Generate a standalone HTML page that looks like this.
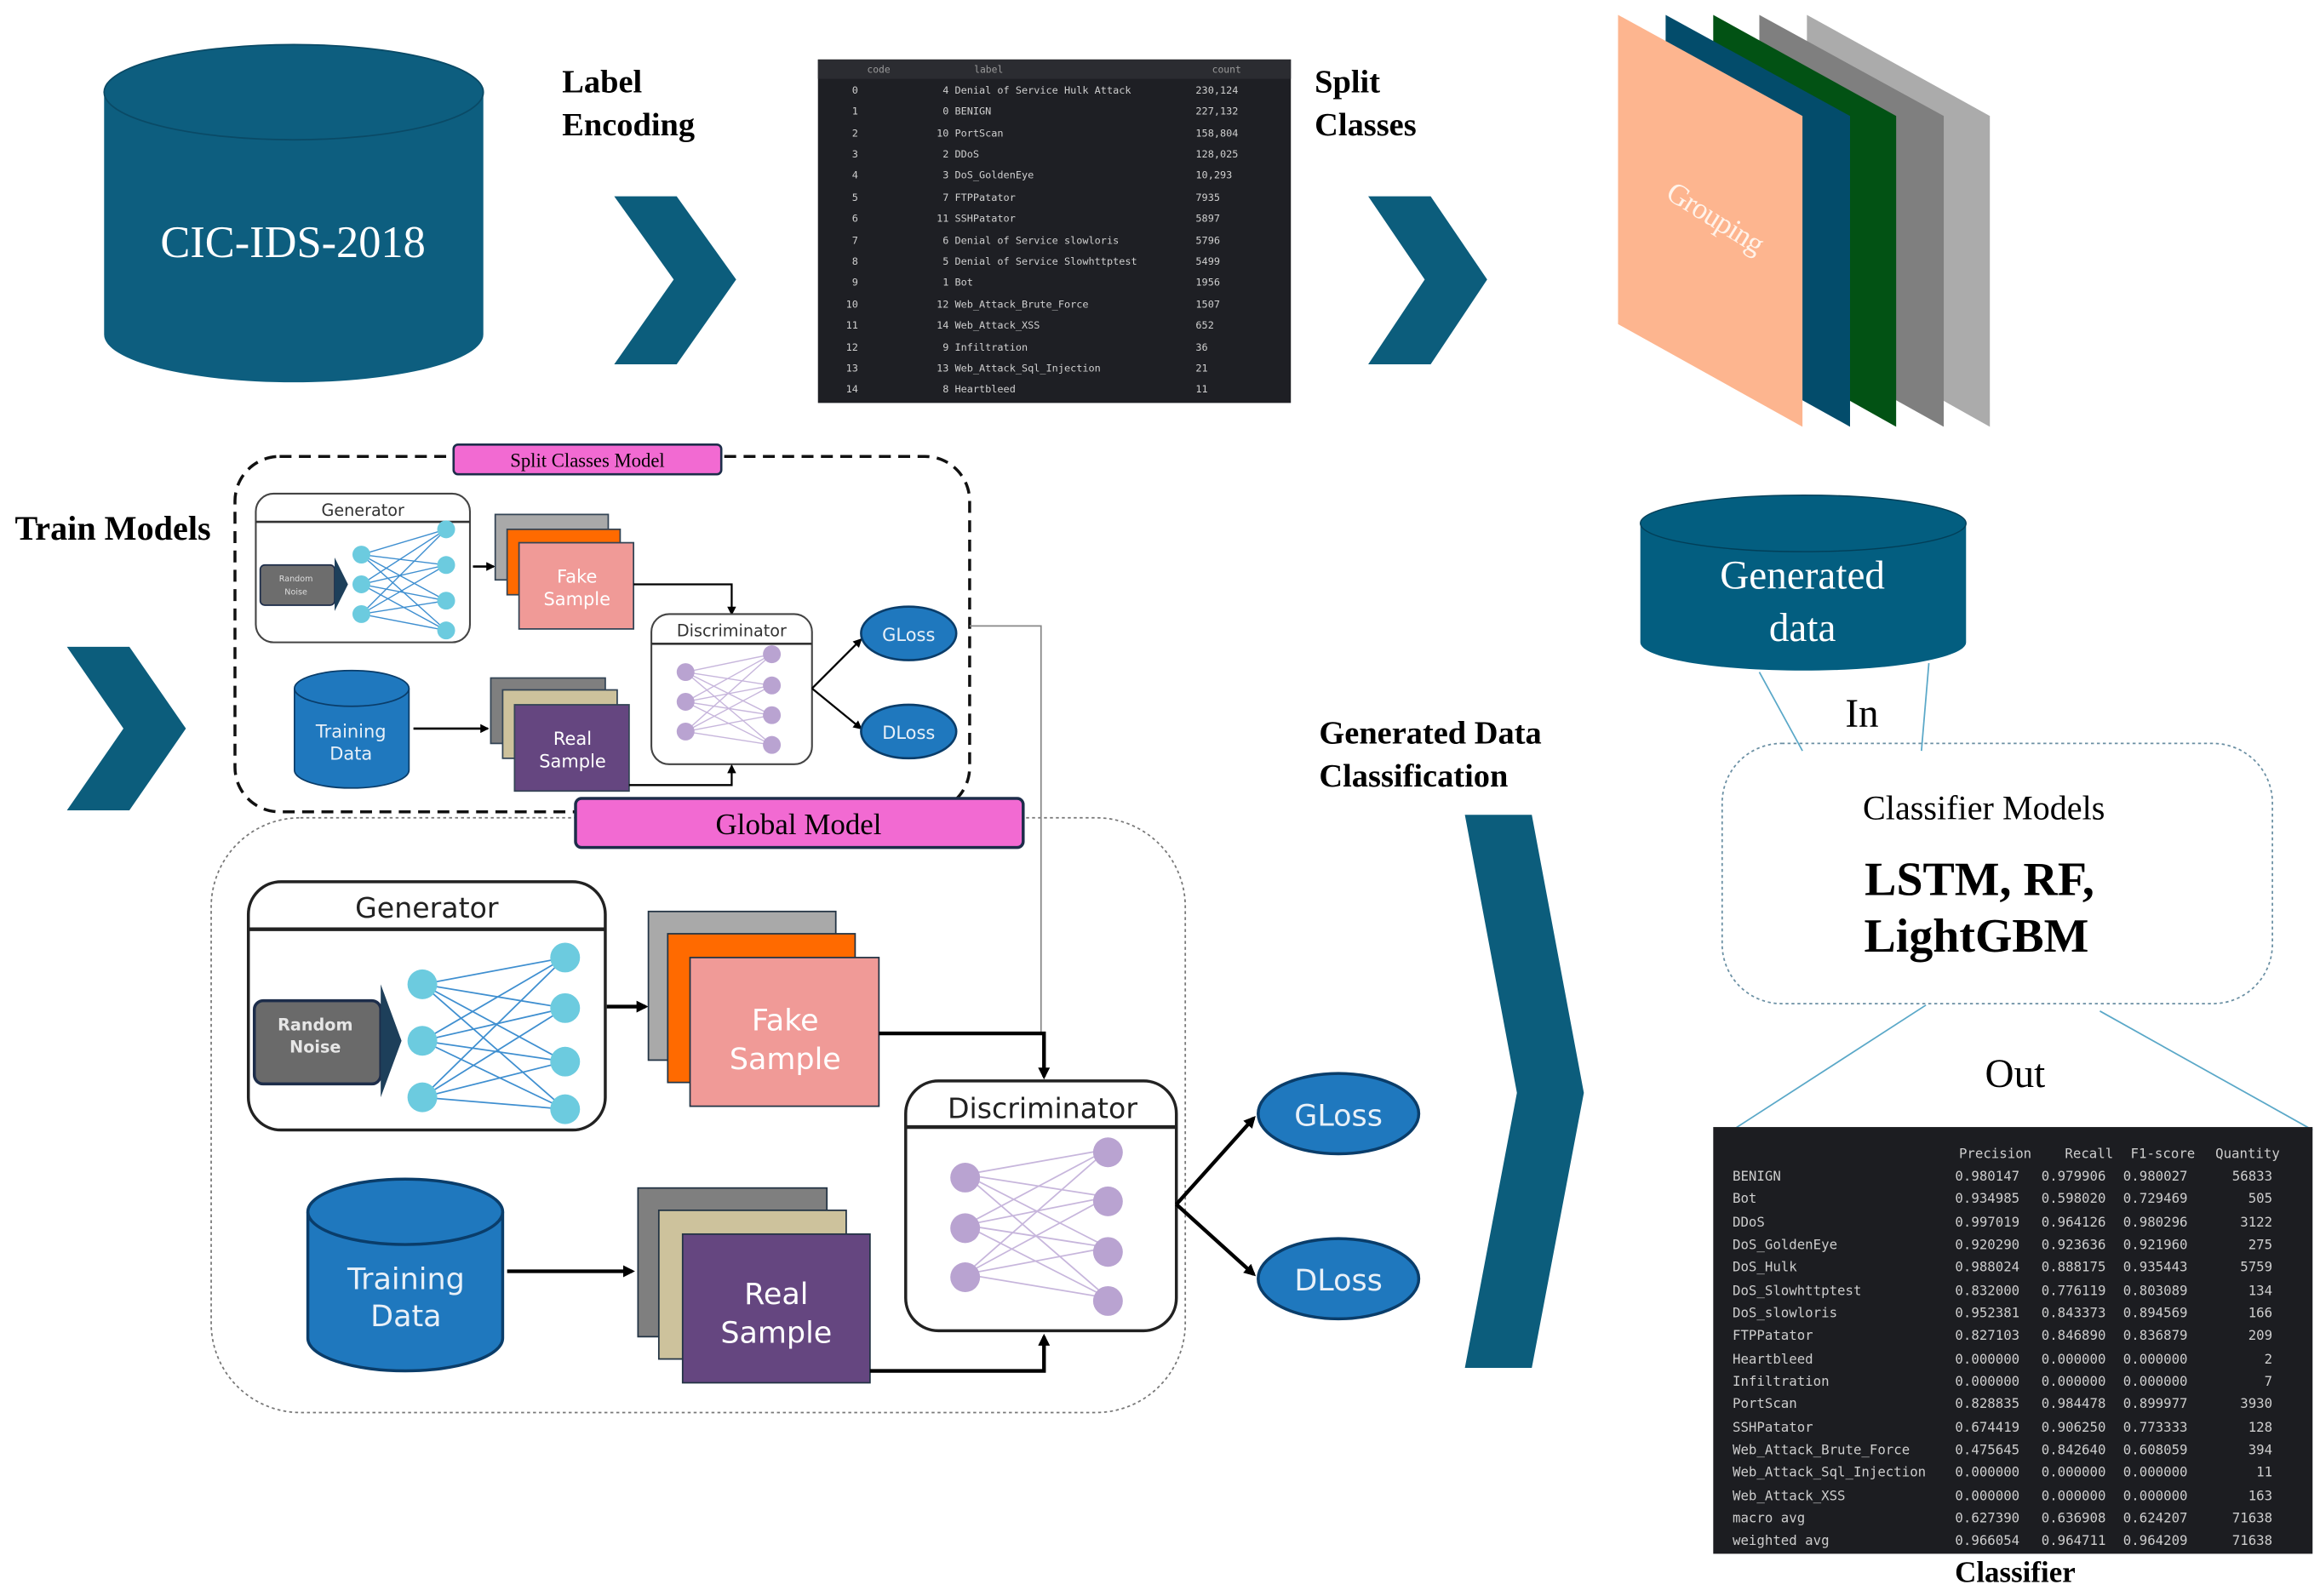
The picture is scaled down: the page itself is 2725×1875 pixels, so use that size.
<!DOCTYPE html>
<html><head><meta charset="utf-8"><style>
html,body{margin:0;padding:0;background:#fff;}
svg{display:block;}
.serif{font-family:"Liberation Serif",serif;}
.sans{font-family:"DejaVu Sans","Liberation Sans",sans-serif;}
.mono{font-family:"DejaVu Sans Mono","Liberation Mono",monospace;}
</style></head><body>
<svg width="2725" height="1875" viewBox="0 0 1560 1073.4" preserveAspectRatio="none" xmlns="http://www.w3.org/2000/svg">
<defs>
<marker id="ah" markerWidth="8" markerHeight="8" refX="6" refY="4" orient="auto" markerUnits="userSpaceOnUse"><path d="M0,0 L8,4 L0,8 z" fill="#000"/></marker>
<marker id="ah2" markerWidth="6" markerHeight="6" refX="5" refY="3" orient="auto" markerUnits="userSpaceOnUse"><path d="M0,0 L6,3 L0,6 z" fill="#000"/></marker>
</defs>
<rect width="1560" height="1074" fill="#fff"/>

<!-- CIC-IDS-2018 cylinder -->
<path d="M70,62 L70,225 A127,32 0 0 0 325,225 L325,62" fill="#0d5e7f"/>
<ellipse cx="197.5" cy="62" rx="127.5" ry="32" fill="#0d5e7f" stroke="#0a4a66" stroke-width="1"/>
<text x="197" y="173" class="serif" font-size="30" fill="#fff" text-anchor="middle">CIC-IDS-2018</text>

<text x="378" y="62" class="serif" font-size="22" font-weight="bold">Label</text>
<text x="378" y="91" class="serif" font-size="22" font-weight="bold">Encoding</text>
<polygon points="413,132 455,132 495,188 455,245 413,245 453,188" fill="#0c5d7c"/>

<!-- top table -->
<rect x="550" y="40" width="318" height="231" fill="#1e1f24"/>
<rect x="550" y="40" width="318" height="13" fill="#2b2c31"/>
<g class="mono" font-size="6.5" fill="#9a9a9a">
<text x="583" y="49">code</text><text x="655" y="49">label</text><text x="815" y="49">count</text>
</g>
<g class="mono" font-size="6.8" fill="#cfcfcf">
<g text-anchor="end">
<text x="577" y="63">0</text><text x="577" y="77">1</text><text x="577" y="92">2</text><text x="577" y="106">3</text><text x="577" y="120">4</text><text x="577" y="135">5</text><text x="577" y="149">6</text><text x="577" y="164">7</text><text x="577" y="178">8</text><text x="577" y="192">9</text><text x="577" y="207">10</text><text x="577" y="221">11</text><text x="577" y="236">12</text><text x="577" y="250">13</text><text x="577" y="264">14</text>
<text x="638" y="63">4</text><text x="638" y="77">0</text><text x="638" y="92">10</text><text x="638" y="106">2</text><text x="638" y="120">3</text><text x="638" y="135">7</text><text x="638" y="149">11</text><text x="638" y="164">6</text><text x="638" y="178">5</text><text x="638" y="192">1</text><text x="638" y="207">12</text><text x="638" y="221">14</text><text x="638" y="236">9</text><text x="638" y="250">13</text><text x="638" y="264">8</text>
</g>
<text x="642" y="63">Denial of Service Hulk Attack</text><text x="642" y="77">BENIGN</text><text x="642" y="92">PortScan</text><text x="642" y="106">DDoS</text><text x="642" y="120">DoS_GoldenEye</text><text x="642" y="135">FTPPatator</text><text x="642" y="149">SSHPatator</text><text x="642" y="164">Denial of Service slowloris</text><text x="642" y="178">Denial of Service Slowhttptest</text><text x="642" y="192">Bot</text><text x="642" y="207">Web_Attack_Brute_Force</text><text x="642" y="221">Web_Attack_XSS</text><text x="642" y="236">Infiltration</text><text x="642" y="250">Web_Attack_Sql_Injection</text><text x="642" y="264">Heartbleed</text>
<text x="804" y="63">230,124</text><text x="804" y="77">227,132</text><text x="804" y="92">158,804</text><text x="804" y="106">128,025</text><text x="804" y="120">10,293</text><text x="804" y="135">7935</text><text x="804" y="149">5897</text><text x="804" y="164">5796</text><text x="804" y="178">5499</text><text x="804" y="192">1956</text><text x="804" y="207">1507</text><text x="804" y="221">652</text><text x="804" y="236">36</text><text x="804" y="250">21</text><text x="804" y="264">11</text>
</g>

<text x="884" y="62" class="serif" font-size="22" font-weight="bold">Split</text>
<text x="884" y="91" class="serif" font-size="22" font-weight="bold">Classes</text>
<polygon points="920,132 962,132 1000,188 962,245 920,245 958,188" fill="#0c5d7c"/>

<!-- grouping stack -->
<polygon points="1215,10 1338,78 1338,287 1215,218" fill="#ababab"/>
<polygon points="1183,10 1307,78 1307,287 1183,218" fill="#7f7f7f"/>
<polygon points="1152,10 1275,78 1275,287 1152,218" fill="#025214"/>
<polygon points="1120,10 1244,78 1244,287 1120,218" fill="#034c6b"/>
<polygon points="1088,10 1212,78 1212,287 1088,218" fill="#fdb58f"/>
<text x="1150" y="152" class="serif" font-size="20" fill="#fff3ea" text-anchor="middle" letter-spacing="-0.5" transform="rotate(32 1150 152)">Grouping</text>

<!-- Train models -->
<text x="10" y="363" class="serif" font-size="23" font-weight="bold">Train Models</text>
<polygon points="45,435 87,435 125,490 87,545 45,545 83,490" fill="#0c5d7c"/>

<!-- Global dotted box -->
<rect x="142" y="550" width="655" height="400" rx="60" fill="none" stroke="#777" stroke-width="1" stroke-dasharray="2,2"/>

<!-- split classes dashed box -->
<rect x="158" y="307" width="494" height="239" rx="30" fill="none" stroke="#111" stroke-width="2" stroke-dasharray="8,5"/>
<rect x="305" y="299" width="180" height="20" rx="3" fill="#f26ad2" stroke="#1d2d4a" stroke-width="1.5"/>
<text x="395" y="314" class="serif" font-size="13" text-anchor="middle">Split Classes Model</text>

<!-- small generator -->
<rect x="172" y="332" width="144" height="100" rx="12" fill="#fff" stroke="#444" stroke-width="1.2"/>
<line x1="172" y1="351" x2="316" y2="351" stroke="#333" stroke-width="1.5"/>
<text x="244" y="347" class="sans" font-size="11" text-anchor="middle" fill="#333">Generator</text>
<rect x="175" y="380" width="50" height="27" rx="3" fill="#6d6d6d" stroke="#1d2d4a"/>
<polygon points="225,375 234,393 225,411" fill="#1d3f5a"/>
<text x="199" y="391" class="sans" font-size="5.5" fill="#ddd" text-anchor="middle">Random</text>
<text x="199" y="400" class="sans" font-size="5.5" fill="#ddd" text-anchor="middle">Noise</text>
<g stroke="#3f8fd0" stroke-width="0.8">
<line x1="243" y1="373" x2="300" y2="356"/><line x1="243" y1="373" x2="300" y2="380"/><line x1="243" y1="373" x2="300" y2="404"/><line x1="243" y1="373" x2="300" y2="424"/>
<line x1="243" y1="393" x2="300" y2="356"/><line x1="243" y1="393" x2="300" y2="380"/><line x1="243" y1="393" x2="300" y2="404"/><line x1="243" y1="393" x2="300" y2="424"/>
<line x1="243" y1="413" x2="300" y2="356"/><line x1="243" y1="413" x2="300" y2="380"/><line x1="243" y1="413" x2="300" y2="404"/><line x1="243" y1="413" x2="300" y2="424"/>
</g>
<g fill="#6ccbdf"><circle cx="243" cy="373" r="6"/><circle cx="243" cy="393" r="6"/><circle cx="243" cy="413" r="6"/><circle cx="300" cy="356" r="6"/><circle cx="300" cy="380" r="6"/><circle cx="300" cy="404" r="6"/><circle cx="300" cy="424" r="6"/></g>
<line x1="318" y1="381" x2="332" y2="381" stroke="#000" stroke-width="1.5" marker-end="url(#ah2)"/>
<rect x="333" y="346" width="76" height="44" fill="#a9a9a9" stroke="#345"/>
<rect x="341" y="356" width="76" height="44" fill="#ff6a00" stroke="#345"/>
<rect x="349" y="365" width="77" height="58" fill="#f09a97" stroke="#345"/>
<text x="388" y="392" class="sans" font-size="12" fill="#fff" text-anchor="middle">Fake</text>
<text x="388" y="407" class="sans" font-size="12" fill="#fff" text-anchor="middle">Sample</text>
<polyline points="426,393 492,393 492,413" fill="none" stroke="#000" stroke-width="1.3" marker-end="url(#ah2)"/>
<rect x="438" y="413" width="108" height="101" rx="12" fill="#fff" stroke="#444" stroke-width="1.2"/>
<line x1="438" y1="433" x2="546" y2="433" stroke="#333" stroke-width="1.5"/>
<text x="492" y="428" class="sans" font-size="11" text-anchor="middle" fill="#333">Discriminator</text>
<g stroke="#c7b6dc" stroke-width="0.8">
<line x1="461" y1="452" x2="519" y2="440"/><line x1="461" y1="452" x2="519" y2="461"/><line x1="461" y1="452" x2="519" y2="481"/><line x1="461" y1="452" x2="519" y2="501"/>
<line x1="461" y1="472" x2="519" y2="440"/><line x1="461" y1="472" x2="519" y2="461"/><line x1="461" y1="472" x2="519" y2="481"/><line x1="461" y1="472" x2="519" y2="501"/>
<line x1="461" y1="492" x2="519" y2="440"/><line x1="461" y1="492" x2="519" y2="461"/><line x1="461" y1="492" x2="519" y2="481"/><line x1="461" y1="492" x2="519" y2="501"/>
</g>
<g fill="#b9a3d1"><circle cx="461" cy="452" r="6"/><circle cx="461" cy="472" r="6"/><circle cx="461" cy="492" r="6"/><circle cx="519" cy="440" r="6"/><circle cx="519" cy="461" r="6"/><circle cx="519" cy="481" r="6"/><circle cx="519" cy="501" r="6"/></g>
<line x1="546" y1="463" x2="579" y2="430" stroke="#000" stroke-width="1.3" marker-end="url(#ah2)"/>
<line x1="546" y1="463" x2="579" y2="490" stroke="#000" stroke-width="1.3" marker-end="url(#ah2)"/>
<ellipse cx="611" cy="426" rx="32" ry="18" fill="#1f78be" stroke="#0a3d6a" stroke-width="1.5"/>
<ellipse cx="611" cy="492" rx="32" ry="18" fill="#1f78be" stroke="#0a3d6a" stroke-width="1.5"/>
<text x="611" y="431" class="sans" font-size="12" fill="#e8f0f8" text-anchor="middle">GLoss</text>
<text x="611" y="497" class="sans" font-size="12" fill="#e8f0f8" text-anchor="middle">DLoss</text>
<path d="M198,463 L198,518 A38.5,12 0 0 0 275,518 L275,463" fill="#1f78be" stroke="#0a3d6a"/>
<ellipse cx="236.5" cy="463" rx="38.5" ry="12" fill="#1f78be" stroke="#0a3d6a"/>
<text x="236" y="496" class="sans" font-size="12" fill="#e8f0f8" text-anchor="middle">Training</text>
<text x="236" y="511" class="sans" font-size="12" fill="#e8f0f8" text-anchor="middle">Data</text>
<line x1="278" y1="490" x2="328" y2="490" stroke="#000" stroke-width="1.5" marker-end="url(#ah2)"/>
<rect x="330" y="456" width="77" height="44" fill="#7f7f7f" stroke="#345"/>
<rect x="338" y="464" width="77" height="46" fill="#cdc29c" stroke="#345"/>
<rect x="346" y="474" width="77" height="58" fill="#654680" stroke="#345"/>
<text x="385" y="501" class="sans" font-size="12" fill="#fff" text-anchor="middle">Real</text>
<text x="385" y="516" class="sans" font-size="12" fill="#fff" text-anchor="middle">Sample</text>
<polyline points="423,528 492,528 492,515" fill="none" stroke="#000" stroke-width="1.3" marker-end="url(#ah2)"/>

<!-- connector from split to global -->
<polyline points="652,421 700,421 700,695" fill="none" stroke="#888" stroke-width="1"/>

<!-- Global model label -->
<rect x="387" y="537" width="301" height="33" rx="4" fill="#f26ad2" stroke="#1d2d4a" stroke-width="2"/>
<text x="537" y="561" class="serif" font-size="20" text-anchor="middle">Global Model</text>

<!-- big generator -->
<rect x="167" y="593" width="240" height="167" rx="22" fill="#fff" stroke="#222" stroke-width="2"/>
<line x1="167" y1="625" x2="407" y2="625" stroke="#222" stroke-width="2.5"/>
<text x="287" y="617" class="sans" font-size="19" text-anchor="middle" fill="#222">Generator</text>
<rect x="171" y="673" width="85" height="56" rx="6" fill="#6a6a6a" stroke="#1d2d4a" stroke-width="2"/>
<polygon points="256,662 270,700 256,738" fill="#1d3f5a"/>
<text x="212" y="693" class="sans" font-size="11" fill="#e6e6e6" text-anchor="middle" font-weight="bold">Random</text>
<text x="212" y="708" class="sans" font-size="11" fill="#e6e6e6" text-anchor="middle" font-weight="bold">Noise</text>
<g stroke="#3f8fd0" stroke-width="1">
<line x1="284" y1="662" x2="380" y2="644"/><line x1="284" y1="662" x2="380" y2="678"/><line x1="284" y1="662" x2="380" y2="714"/><line x1="284" y1="662" x2="380" y2="746"/>
<line x1="284" y1="700" x2="380" y2="644"/><line x1="284" y1="700" x2="380" y2="678"/><line x1="284" y1="700" x2="380" y2="714"/><line x1="284" y1="700" x2="380" y2="746"/>
<line x1="284" y1="738" x2="380" y2="644"/><line x1="284" y1="738" x2="380" y2="678"/><line x1="284" y1="738" x2="380" y2="714"/><line x1="284" y1="738" x2="380" y2="746"/>
</g>
<g fill="#6ccbdf"><circle cx="284" cy="662" r="10"/><circle cx="284" cy="700" r="10"/><circle cx="284" cy="738" r="10"/><circle cx="380" cy="644" r="10"/><circle cx="380" cy="678" r="10"/><circle cx="380" cy="714" r="10"/><circle cx="380" cy="746" r="10"/></g>
<line x1="408" y1="677" x2="434" y2="677" stroke="#000" stroke-width="2.5" marker-end="url(#ah)"/>
<rect x="436" y="613" width="126" height="100" fill="#a9a9a9" stroke="#234"/>
<rect x="449" y="628" width="126" height="100" fill="#ff6a00" stroke="#234"/>
<rect x="464" y="644" width="127" height="100" fill="#f09a97" stroke="#234"/>
<text x="528" y="693" class="sans" font-size="20" fill="#fff" text-anchor="middle">Fake</text>
<text x="528" y="719" class="sans" font-size="20" fill="#fff" text-anchor="middle">Sample</text>
<polyline points="591,695 702,695 702,724" fill="none" stroke="#000" stroke-width="2.5" marker-end="url(#ah)"/>

<!-- big discriminator -->
<rect x="609" y="727" width="182" height="168" rx="22" fill="#fff" stroke="#222" stroke-width="2"/>
<line x1="609" y1="758" x2="791" y2="758" stroke="#222" stroke-width="2.5"/>
<text x="701" y="752" class="sans" font-size="19" text-anchor="middle" fill="#222">Discriminator</text>
<g stroke="#c7b6dc" stroke-width="1">
<line x1="649" y1="790" x2="745" y2="773"/><line x1="649" y1="790" x2="745" y2="805"/><line x1="649" y1="790" x2="745" y2="839"/><line x1="649" y1="790" x2="745" y2="873"/>
<line x1="649" y1="824" x2="745" y2="773"/><line x1="649" y1="824" x2="745" y2="805"/><line x1="649" y1="824" x2="745" y2="839"/><line x1="649" y1="824" x2="745" y2="873"/>
<line x1="649" y1="857" x2="745" y2="773"/><line x1="649" y1="857" x2="745" y2="805"/><line x1="649" y1="857" x2="745" y2="839"/><line x1="649" y1="857" x2="745" y2="873"/>
</g>
<g fill="#b9a3d1"><circle cx="649" cy="792" r="10"/><circle cx="649" cy="826" r="10"/><circle cx="649" cy="859" r="10"/><circle cx="745" cy="775" r="10"/><circle cx="745" cy="808" r="10"/><circle cx="745" cy="842" r="10"/><circle cx="745" cy="875" r="10"/></g>
<line x1="791" y1="810" x2="843" y2="752" stroke="#000" stroke-width="2.5" marker-end="url(#ah)"/>
<line x1="791" y1="810" x2="843" y2="857" stroke="#000" stroke-width="2.5" marker-end="url(#ah)"/>
<ellipse cx="900" cy="749" rx="54" ry="27" fill="#1f78be" stroke="#0a3d6a" stroke-width="2"/>
<ellipse cx="900" cy="860" rx="54" ry="27" fill="#1f78be" stroke="#0a3d6a" stroke-width="2"/>
<text x="900" y="757" class="sans" font-size="20" fill="#e8f0f8" text-anchor="middle">GLoss</text>
<text x="900" y="868" class="sans" font-size="20" fill="#e8f0f8" text-anchor="middle">DLoss</text>

<!-- big training data -->
<path d="M207,815 L207,900 A65.5,22 0 0 0 338,900 L338,815" fill="#1f78be" stroke="#0a3d6a" stroke-width="2"/>
<ellipse cx="272.5" cy="815" rx="65.5" ry="22" fill="#1f78be" stroke="#0a3d6a" stroke-width="2"/>
<text x="273" y="867" class="sans" font-size="20" fill="#e8f0f8" text-anchor="middle">Training</text>
<text x="273" y="892" class="sans" font-size="20" fill="#e8f0f8" text-anchor="middle">Data</text>
<line x1="341" y1="855" x2="425" y2="855" stroke="#000" stroke-width="2.5" marker-end="url(#ah)"/>
<rect x="429" y="799" width="127" height="100" fill="#7f7f7f" stroke="#234"/>
<rect x="443" y="814" width="126" height="100" fill="#cdc29c" stroke="#234"/>
<rect x="459" y="830" width="126" height="100" fill="#654680" stroke="#234"/>
<text x="522" y="877" class="sans" font-size="20" fill="#fff" text-anchor="middle">Real</text>
<text x="522" y="903" class="sans" font-size="20" fill="#fff" text-anchor="middle">Sample</text>
<polyline points="585,922 702,922 702,899" fill="none" stroke="#000" stroke-width="2.5" marker-end="url(#ah)"/>

<!-- Generated data classification -->
<text x="887" y="500" class="serif" font-size="22" font-weight="bold">Generated Data</text>
<text x="887" y="529" class="serif" font-size="22" font-weight="bold">Classification</text>
<polygon points="985,548 1030,548 1065,735 1030,920 985,920 1020,735" fill="#0c5d7c"/>

<!-- generated data cylinder -->
<line x1="1183" y1="452" x2="1212" y2="505" stroke="#5aa8c8" stroke-width="1"/>
<line x1="1297" y1="446" x2="1292" y2="505" stroke="#5aa8c8" stroke-width="1"/>
<path d="M1103,352 L1103,432 A109.5,19 0 0 0 1322,432 L1322,352" fill="#035e80"/>
<ellipse cx="1212.5" cy="352" rx="109.5" ry="19" fill="#035e80" stroke="#023f58" stroke-width="0.8"/>
<text x="1212" y="396" class="serif" font-size="27" fill="#fff" text-anchor="middle">Generated</text>
<text x="1212" y="431" class="serif" font-size="27" fill="#fff" text-anchor="middle">data</text>
<text x="1252" y="489" class="serif" font-size="27" text-anchor="middle">In</text>

<rect x="1158" y="500" width="370" height="175" rx="40" fill="none" stroke="#6a8fa3" stroke-width="1" stroke-dasharray="2,2"/>
<text x="1334" y="551" class="serif" font-size="23" text-anchor="middle">Classifier Models</text>
<text x="1331" y="602" class="serif" font-size="32" font-weight="bold" text-anchor="middle">LSTM, RF,</text>
<text x="1329" y="640" class="serif" font-size="32" font-weight="bold" text-anchor="middle">LightGBM</text>
<line x1="1295" y1="676" x2="1165" y2="760" stroke="#5aa8c8" stroke-width="1"/>
<line x1="1412" y1="680" x2="1555" y2="760" stroke="#5aa8c8" stroke-width="1"/>
<text x="1355" y="731" class="serif" font-size="27" text-anchor="middle">Out</text>

<!-- results table -->
<rect x="1152" y="758" width="403" height="287" fill="#1c1d21"/>
<g class="mono" font-size="9" fill="#cdcdcd">
<g text-anchor="end">
<text x="1366" y="779">Precision</text><text x="1421" y="779">Recall</text><text x="1476" y="779">F1-score</text><text x="1533" y="779">Quantity</text>
</g>
<text x="1165" y="794">BENIGN</text><text x="1165" y="809">Bot</text><text x="1165" y="825">DDoS</text><text x="1165" y="840">DoS_GoldenEye</text><text x="1165" y="855">DoS_Hulk</text><text x="1165" y="871">DoS_Slowhttptest</text><text x="1165" y="886">DoS_slowloris</text><text x="1165" y="901">FTPPatator</text><text x="1165" y="917">Heartbleed</text><text x="1165" y="932">Infiltration</text><text x="1165" y="947">PortScan</text><text x="1165" y="963">SSHPatator</text><text x="1165" y="978">Web_Attack_Brute_Force</text><text x="1165" y="993">Web_Attack_Sql_Injection</text><text x="1165" y="1009">Web_Attack_XSS</text><text x="1165" y="1024">macro avg</text><text x="1165" y="1039">weighted avg</text>
<g text-anchor="end">
<text x="1358" y="794">0.980147</text><text x="1416" y="794">0.979906</text><text x="1471" y="794">0.980027</text><text x="1528" y="794">56833</text>
<text x="1358" y="809">0.934985</text><text x="1416" y="809">0.598020</text><text x="1471" y="809">0.729469</text><text x="1528" y="809">505</text>
<text x="1358" y="825">0.997019</text><text x="1416" y="825">0.964126</text><text x="1471" y="825">0.980296</text><text x="1528" y="825">3122</text>
<text x="1358" y="840">0.920290</text><text x="1416" y="840">0.923636</text><text x="1471" y="840">0.921960</text><text x="1528" y="840">275</text>
<text x="1358" y="855">0.988024</text><text x="1416" y="855">0.888175</text><text x="1471" y="855">0.935443</text><text x="1528" y="855">5759</text>
<text x="1358" y="871">0.832000</text><text x="1416" y="871">0.776119</text><text x="1471" y="871">0.803089</text><text x="1528" y="871">134</text>
<text x="1358" y="886">0.952381</text><text x="1416" y="886">0.843373</text><text x="1471" y="886">0.894569</text><text x="1528" y="886">166</text>
<text x="1358" y="901">0.827103</text><text x="1416" y="901">0.846890</text><text x="1471" y="901">0.836879</text><text x="1528" y="901">209</text>
<text x="1358" y="917">0.000000</text><text x="1416" y="917">0.000000</text><text x="1471" y="917">0.000000</text><text x="1528" y="917">2</text>
<text x="1358" y="932">0.000000</text><text x="1416" y="932">0.000000</text><text x="1471" y="932">0.000000</text><text x="1528" y="932">7</text>
<text x="1358" y="947">0.828835</text><text x="1416" y="947">0.984478</text><text x="1471" y="947">0.899977</text><text x="1528" y="947">3930</text>
<text x="1358" y="963">0.674419</text><text x="1416" y="963">0.906250</text><text x="1471" y="963">0.773333</text><text x="1528" y="963">128</text>
<text x="1358" y="978">0.475645</text><text x="1416" y="978">0.842640</text><text x="1471" y="978">0.608059</text><text x="1528" y="978">394</text>
<text x="1358" y="993">0.000000</text><text x="1416" y="993">0.000000</text><text x="1471" y="993">0.000000</text><text x="1528" y="993">11</text>
<text x="1358" y="1009">0.000000</text><text x="1416" y="1009">0.000000</text><text x="1471" y="1009">0.000000</text><text x="1528" y="1009">163</text>
<text x="1358" y="1024">0.627390</text><text x="1416" y="1024">0.636908</text><text x="1471" y="1024">0.624207</text><text x="1528" y="1024">71638</text>
<text x="1358" y="1039">0.966054</text><text x="1416" y="1039">0.964711</text><text x="1471" y="1039">0.964209</text><text x="1528" y="1039">71638</text>
</g>
</g>
<text x="1355" y="1064" class="serif" font-size="20" font-weight="bold" text-anchor="middle">Classifier</text>
</svg>
</body></html>
